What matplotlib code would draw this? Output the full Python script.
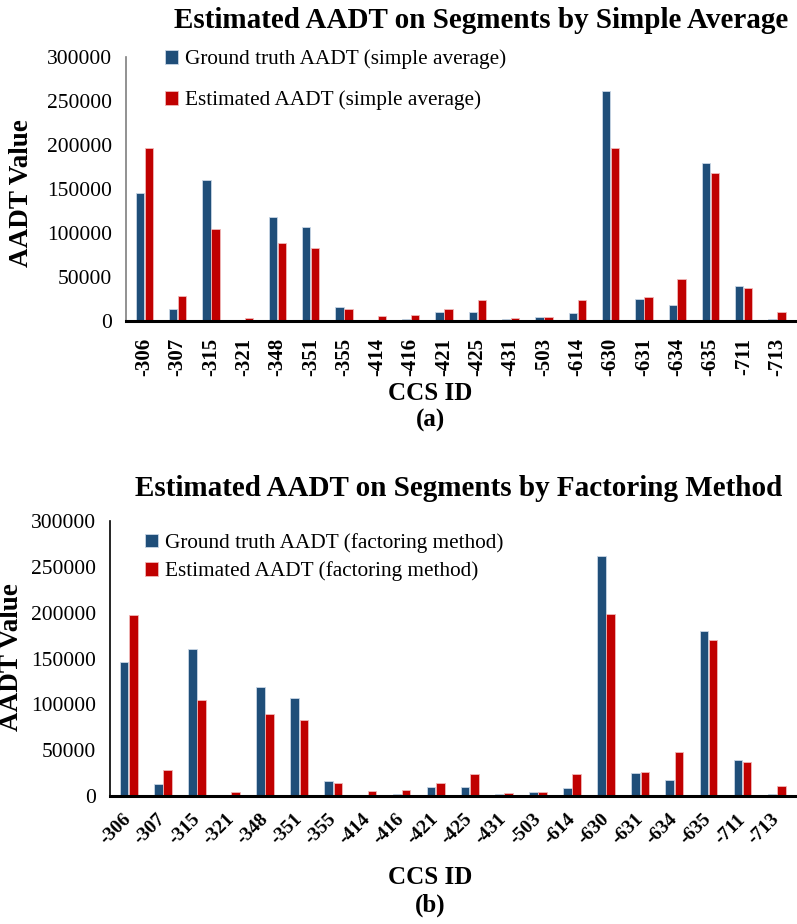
import numpy as np
import matplotlib
matplotlib.use("Agg")
import matplotlib.pyplot as plt

plt.rcParams['font.family'] = ['Liberation Serif', 'DejaVu Serif']

ccs_ids = ["-306", "-307", "-315", "-321", "-348", "-351", "-355", "-414", "-416", "-421",
           "-425", "-431", "-503", "-614", "-630", "-631", "-634", "-635", "-711", "-713"]

truth_simple = [146000, 13600, 160800, 1000, 118000, 106700, 16300, 0, 2300, 9800,
                10200, 1900, 4500, 9100, 261000, 25000, 18200, 179000, 40100, 2300]
est_simple = [196700, 28800, 104000, 3800, 88500, 82500, 14000, 5300, 6400, 14000,
              23500, 3800, 4500, 24200, 196700, 27200, 48000, 168700, 37100, 10200]

truth_factor = [146200, 13100, 160700, 700, 118500, 106900, 16400, 0, 2300, 9800,
                10200, 1900, 4500, 9100, 261800, 25100, 17800, 180400, 39300, 2200]
est_factor = [197500, 28400, 104700, 4000, 89500, 82900, 14200, 5100, 6400, 14000,
              23600, 3800, 4500, 23600, 198200, 26500, 47600, 169800, 37100, 10500]

BLUE = "#1F4E79"
RED = "#C00000"

fig = plt.figure(figsize=(7.97, 9.24), dpi=100)


def draw_panel(ax, truth, est, label_truth, label_est, rot, left_spine_color):
    x = np.arange(len(ccs_ids))
    w = 0.25
    ax.bar(x - w / 2 - 0.01, truth, width=w, color=BLUE, edgecolor="#c9d6e6", linewidth=0.6,
           label=label_truth)
    ax.bar(x + w / 2 + 0.01, est, width=w, color=RED, edgecolor="#f0b8b8", linewidth=0.6,
           label=label_est)
    ax.set_xlim(-0.55, len(ccs_ids) - 0.45)
    ax.set_ylim(0, 300000)
    ax.set_yticks(np.arange(0, 300001, 50000))
    ax.tick_params(axis='both', length=0)
    ax.tick_params(axis='y', labelsize=15.5, pad=10)
    ax.set_xticks(x)
    if rot == 90:
        ax.set_xticklabels(ccs_ids, rotation=90, fontsize=15, fontweight='bold')
        ax.tick_params(axis='x', pad=12)
    else:
        ax.set_xticklabels(ccs_ids, rotation=45, fontsize=14, fontweight='bold',
                           ha='right', va='center', rotation_mode='anchor')
        ax.tick_params(axis='x', pad=15)
    for s in ("top", "right"):
        ax.spines[s].set_visible(False)
    ax.spines["left"].set_color(left_spine_color)
    ax.spines["left"].set_linewidth(1.2)
    ax.spines["bottom"].set_color("black")
    ax.spines["bottom"].set_linewidth(2.2)
    return ax


# Panel (a): simple average
ax1 = fig.add_axes([0.158, 0.6526, 0.84, 0.2857])
draw_panel(ax1, truth_simple, est_simple,
           "Ground truth AADT (simple average)", "Estimated AADT (simple average)",
           90, "#7f7f7f")
ax1.legend(loc='upper left', bbox_to_anchor=(0.03, 1.10), frameon=False, fontsize=15.3,
           handlelength=0.6, handleheight=0.6, handletextpad=0.35, labelspacing=1.0)
fig.text(0.6035, 0.978, "Estimated AADT on Segments by Simple Average", ha='center',
         va='center', fontsize=21, fontweight='bold')
fig.text(22 / 797, 1 - 193 / 924, "AADT Value", rotation=90, ha='center', va='center',
         fontsize=19.5, fontweight='bold')
fig.text(0.54, 1 - 393 / 924, "CCS ID", ha='center', va='center', fontsize=18, fontweight='bold')
fig.text(0.54, 1 - 420 / 924, "(a)", ha='center', va='center', fontsize=18, fontweight='bold')

# Panel (b): factoring method
ax2 = fig.add_axes([0.138, 0.1385, 0.86, 0.2976])
draw_panel(ax2, truth_factor, est_factor,
           "Ground truth AADT (factoring method)", "Estimated AADT (factoring method)",
           45, "black")
ax2.legend(loc='upper left', bbox_to_anchor=(0.023, 1.026), frameon=False, fontsize=15.3,
           handlelength=0.6, handleheight=0.6, handletextpad=0.35, labelspacing=0.4)
fig.text(0.575, 1 - 488 / 924, "Estimated AADT on Segments by Factoring Method", ha='center',
         va='center', fontsize=21, fontweight='bold')
fig.text(12 / 797, 1 - 657 / 924, "AADT Value", rotation=90, ha='center', va='center',
         fontsize=19.5, fontweight='bold')
fig.text(0.54, 1 - 877 / 924, "CCS ID", ha='center', va='center', fontsize=18, fontweight='bold')
fig.text(0.54, 1 - 905 / 924, "(b)", ha='center', va='center', fontsize=18, fontweight='bold')

fig.savefig("out.png", dpi=100)
